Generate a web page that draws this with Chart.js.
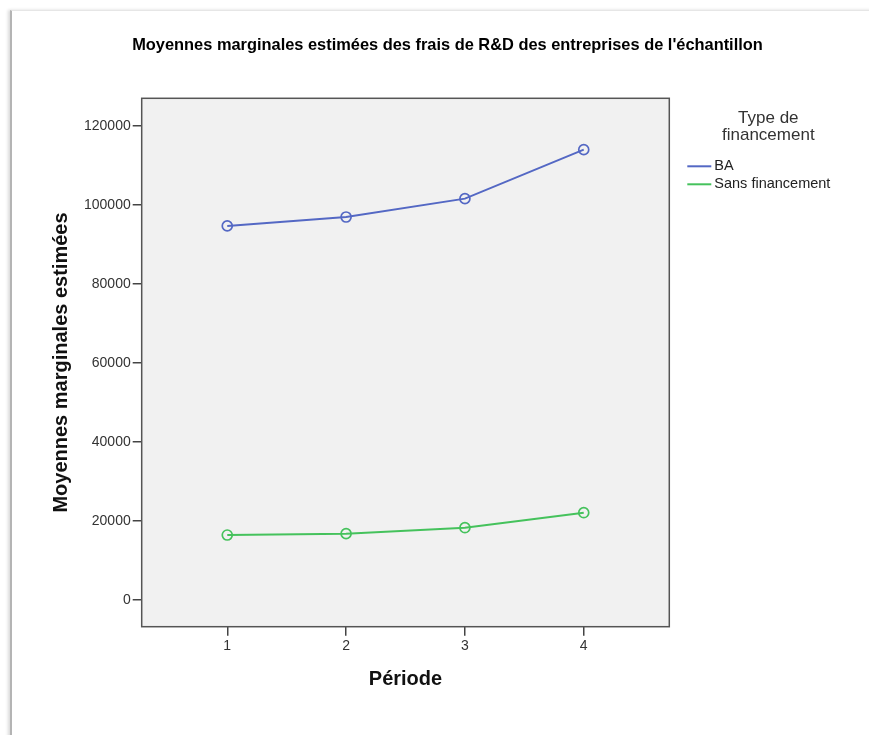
<!DOCTYPE html>
<html>
<head>
<meta charset="utf-8">
<script src="https://cdn.jsdelivr.net/npm/chart.js@4/dist/chart.umd.min.js"></script>
<style>
  body { margin: 0; background: #fff; }
  #frame {
    position: absolute; left: 10px; top: 10px; width: 880px; height: 760px;
    border-left: 2px solid #b4b4b4; border-top: 1px solid #e6e6e6;
    box-shadow: -2px 0 3px rgba(0,0,0,0.15);
  }
  #myChart { position: absolute; left: 0; top: 0; }
</style>
</head>
<body>
<div id="frame"></div>
<canvas id="myChart" width="869" height="735"></canvas>
<script>
const periods = [1, 2, 3, 4];
const baValues = [94700, 96950, 101600, 114000];
const sansValues = [16450, 16800, 18300, 22100];
const yTicks = [0, 20000, 40000, 60000, 80000, 100000, 120000];
const seriesNames = ['BA', 'Sans financement'];
const seriesColors = ['#5468c4', '#45c25c'];
const legendTitle = ['Type de', 'financement'];
const chartTitle = "Moyennes marginales estimées des frais de R&D des entreprises de l'échantillon";

const toPoints = (vals) => periods.map((p, i) => ({ x: p, y: vals[i] }));

// plot background, frame, title and legend
const plotDeco = {
  id: 'plotDeco',
  beforeDatasetsDraw(chart) {
    const { ctx, chartArea: a } = chart;
    ctx.save();
    ctx.fillStyle = '#f1f1f1';
    ctx.fillRect(a.left, a.top, a.right - a.left, a.bottom - a.top);
    ctx.restore();
  },
  afterDraw(chart) {
    const { ctx, chartArea: a } = chart;
    ctx.save();
    ctx.strokeStyle = '#555';
    ctx.lineWidth = 1.5;
    ctx.strokeRect(a.left, a.top, a.right - a.left, a.bottom - a.top);

    // title
    ctx.fillStyle = '#000';
    ctx.font = 'bold 16.4px "Liberation Sans", Arial, sans-serif';
    ctx.textAlign = 'center';
    ctx.textBaseline = 'middle';
    ctx.fillText(chartTitle, 447.5, a.top - 53);

    ctx.fillStyle = '#333';
    ctx.font = '17px "Liberation Sans", Arial, sans-serif';
    legendTitle.forEach((t, i) => ctx.fillText(t, a.right + 99, a.top + 20 + i * 17));

    ctx.font = '14.5px "Liberation Sans", Arial, sans-serif';
    ctx.textAlign = 'left';
    chart.data.datasets.forEach((ds, i) => {
      const y = a.top + 68 + i * 18;
      ctx.strokeStyle = ds.borderColor;
      ctx.lineWidth = 2;
      ctx.beginPath();
      ctx.moveTo(a.right + 18, y);
      ctx.lineTo(a.right + 42, y);
      ctx.stroke();
      ctx.fillStyle = '#222';
      ctx.fillText(ds.label, a.right + 45, y);
    });
    ctx.restore();
  }
};

const ctx = document.getElementById('myChart').getContext('2d');
const myChart = new Chart(ctx, {
  type: 'line',
  data: {
    datasets: [
      {
        label: seriesNames[0],
        data: toPoints(baValues),
        borderColor: seriesColors[0],
        backgroundColor: 'rgba(0,0,0,0)',
        borderWidth: 2,
        pointRadius: 5,
        pointBorderWidth: 1.7,
        pointBackgroundColor: 'rgba(0,0,0,0)',
      },
      {
        label: seriesNames[1],
        data: toPoints(sansValues),
        borderColor: seriesColors[1],
        backgroundColor: 'rgba(0,0,0,0)',
        borderWidth: 2,
        pointRadius: 5,
        pointBorderWidth: 1.7,
        pointBackgroundColor: 'rgba(0,0,0,0)',
      },
    ],
  },
  options: {
    responsive: false,
    animation: false,
    layout: { padding: { left: 41.7, right: 199.7, top: 98.3, bottom: 34.3 } },
    plugins: {
      legend: { display: false },
      tooltip: { enabled: false },
      title: { display: false },
    },
    scales: {
      x: {
        type: 'linear',
        min: 0.28,
        max: 4.72,
        afterBuildTicks: (s) => { s.ticks = periods.map(v => ({ value: v })); },
        afterFit: (s) => { s.height = 74; },
        grid: { drawOnChartArea: false, drawTicks: true, tickLength: 9, color: '#444', lineWidth: 1.5 },
        border: { display: false },
        ticks: {
          color: '#333', padding: 2,
          font: { family: '"Liberation Sans", Arial, sans-serif', size: 14 },
          callback: (v) => String(v),
        },
        title: {
          display: true, text: 'Période', color: '#111',
          font: { family: '"Liberation Sans", Arial, sans-serif', size: 20, weight: 'bold' },
          padding: { top: 0, bottom: 9 },
        },
      },
      y: {
        min: -6760,
        max: 127000,
        afterBuildTicks: (s) => { s.ticks = yTicks.map(v => ({ value: v })); },
        afterFit: (s) => { s.width = 100; },
        grid: { drawOnChartArea: false, drawTicks: true, tickLength: 9, color: '#444', lineWidth: 1.5 },
        border: { display: false },
        ticks: {
          color: '#333', padding: 2,
          font: { family: '"Liberation Sans", Arial, sans-serif', size: 14 },
          callback: (v) => String(v),
        },
        title: {
          display: true, text: 'Moyennes marginales estimées', color: '#111',
          font: { family: '"Liberation Sans", Arial, sans-serif', size: 20, weight: 'bold' },
          padding: { top: 8, bottom: 0 },
        },
      },
    },
  },
  plugins: [plotDeco],
});
</script>
</body>
</html>
